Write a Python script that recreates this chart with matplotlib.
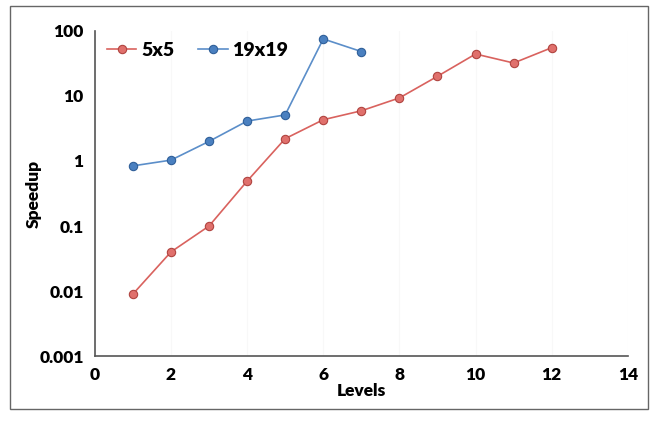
import matplotlib.pyplot as plt
from matplotlib.patches import Rectangle

levels_5 = [1, 2, 3, 4, 5, 6, 7, 8, 9, 10, 11, 12]
speedup_5 = [0.009, 0.04, 0.1, 0.49, 2.2, 4.3, 5.9, 9.3, 20, 44, 32, 55]
levels_19 = [1, 2, 3, 4, 5, 6, 7]
speedup_19 = [0.84, 1.03, 2.0, 4.1, 5.1, 75, 48]

plt.rcParams['font.family'] = ['Lato', 'DejaVu Sans']
plt.rcParams['font.weight'] = 'heavy'

fig = plt.figure(figsize=(6.54, 4.22), dpi=100)
ax = fig.add_axes([0.145, 0.156, 0.815, 0.771])

ax.plot(levels_5, speedup_5, 'o-', color='#d9625e', lw=1.2,
        markersize=6, markerfacecolor='#e0706c', markeredgecolor='#b04440',
        markeredgewidth=0.8, label='5x5')
ax.plot(levels_19, speedup_19, 'o-', color='#5b8ec9', lw=1.2,
        markersize=6, markerfacecolor='#4a80c0', markeredgecolor='#2f5f99',
        markeredgewidth=0.8, label='19x19')

ax.set_yscale('log')
ax.set_ylim(0.001, 100)
ax.set_xlim(0, 14)
ax.set_xticks(range(0, 15, 2))
ax.set_yticks([0.001, 0.01, 0.1, 1, 10, 100])
ax.set_yticklabels(['0.001', '0.01', '0.1', '1', '10', '100'])
ax.minorticks_off()
ax.tick_params(length=0, labelsize=12.5, pad=8)
ax.xaxis.grid(True, color='#f8f8f8', lw=0.8)

for s in ['top', 'right']:
    ax.spines[s].set_visible(False)
for s in ['left', 'bottom']:
    ax.spines[s].set_color('#555555')
    ax.spines[s].set_linewidth(1.2)

ax.set_xlabel('Levels', fontsize=12.5, fontweight='heavy', labelpad=0)
ax.set_ylabel('Speedup', fontsize=12.5, fontweight='heavy', labelpad=-2)

ax.legend(loc='upper left', ncol=2, frameon=False, fontsize=14,
          handlelength=1.5, handletextpad=0.25, columnspacing=1.25,
          bbox_to_anchor=(-0.01, 1.02))

fig.patches.append(Rectangle((0.016, 0.03), 0.975, 0.955, transform=fig.transFigure,
                             fill=False, edgecolor='#666666', lw=1.0))

fig.savefig('out.png', dpi=100)
